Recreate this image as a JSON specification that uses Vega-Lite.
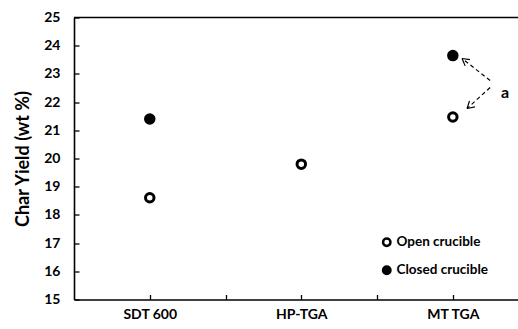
{
  "$schema": "https://vega.github.io/schema/vega-lite/v6.json",
  "width": 444,
  "height": 282,
  "autosize": {"type": "none"},
  "padding": {"left": 74, "top": 17.5, "right": 0, "bottom": 29.5},
  "background": "white",
  "config": {
    "view": {"stroke": null},
    "font": "Lato",
    "axis": {
      "grid": false,
      "domainColor": "black",
      "domainWidth": 1.6,
      "tickColor": "black",
      "tickWidth": 1.3,
      "tickSize": -5,
      "labelColor": "black",
      "labelFont": "Lato",
      "labelFontWeight": "bold",
      "labelFontSize": 14,
      "labelOverlap": false,
      "titleColor": "black",
      "titleFont": "Lato",
      "titleFontWeight": "bold"
    },
    "axisY": {
      "labelOverlap": false,
      "labelPadding": 19,
      "titleFontSize": 18,
      "titlePadding": 11,
      "tickCount": 10
    },
    "axisX": {
      "labelPadding": 13,
      "labelOverlap": false
    },
    "legend": {
      "orient": "none",
      "legendX": 306,
      "legendY": 218,
      "title": null,
      "labelFont": "Lato",
      "labelFontSize": 13.5,
      "labelFontWeight": "bold",
      "labelColor": "black",
      "symbolSize": 55,
      "symbolStrokeWidth": 2.5,
      "symbolStrokeColor": "black",
      "rowPadding": 10,
      "labelOffset": 3,
      "padding": 0
    }
  },
  "datasets": {
    "points": [
      {"instrument": "SDT 600", "idx": 1, "crucible": "Open crucible", "yield": 18.61},
      {"instrument": "SDT 600", "idx": 1, "crucible": "Closed crucible", "yield": 21.40},
      {"instrument": "HP-TGA", "idx": 2, "crucible": "Open crucible", "yield": 19.80},
      {"instrument": "MT TGA", "idx": 3, "crucible": "Open crucible", "yield": 21.47},
      {"instrument": "MT TGA", "idx": 3, "crucible": "Closed crucible", "yield": 23.65}
    ],
    "arrows": [
      {"x": 3.246, "y": 22.766, "x2": 3.061, "y2": 23.546},
      {"x": 3.246, "y": 22.518, "x2": 3.094, "y2": 21.773}
    ],
    "heads": [
      {"x": 3.061, "y": 23.546, "x2": 3.081, "y2": 23.284},
      {"x": 3.061, "y": 23.546, "x2": 3.113, "y2": 23.507},
      {"x": 3.094, "y": 21.773, "x2": 3.146, "y2": 21.833},
      {"x": 3.094, "y": 21.773, "x2": 3.110, "y2": 22.043}
    ],
    "notes": [
      {"x": 3.345, "y": 22.34, "text": "a"}
    ]
  },
  "layer": [
    {
      "data": {"name": "points"},
      "mark": {"type": "point", "shape": "circle", "size": 72, "strokeWidth": 3, "stroke": "black", "opacity": 1, "filled": false},
      "encoding": {
        "x": {
          "field": "idx", "type": "quantitative", "title": null,
          "scale": {"domain": [0.5, 3.43], "nice": false, "zero": false},
          "axis": {
            "values": [1, 1.5, 2, 2.5, 3],
            "labelExpr": "datum.value == 1 ? 'SDT 600' : datum.value == 2 ? 'HP-TGA' : datum.value == 3 ? 'MT TGA' : ''"
          }
        },
        "y": {
          "field": "yield", "type": "quantitative", "title": "Char Yield (wt %)",
          "scale": {"domain": [15, 25], "nice": false, "zero": false}
        },
        "fill": {
          "field": "crucible", "type": "nominal",
          "scale": {"domain": ["Open crucible", "Closed crucible"], "range": ["white", "black"]}
        }
      }
    },
    {
      "data": {"name": "arrows"},
      "mark": {"type": "rule", "color": "black", "strokeWidth": 1.2, "strokeDash": [4, 3]},
      "encoding": {
        "x": {"field": "x", "type": "quantitative", "title": null},
        "y": {"field": "y", "type": "quantitative", "title": "Char Yield (wt %)"},
        "x2": {"field": "x2"},
        "y2": {"field": "y2"}
      }
    },
    {
      "data": {"name": "heads"},
      "mark": {"type": "rule", "color": "black", "strokeWidth": 1.2},
      "encoding": {
        "x": {"field": "x", "type": "quantitative", "title": null},
        "y": {"field": "y", "type": "quantitative", "title": "Char Yield (wt %)"},
        "x2": {"field": "x2"},
        "y2": {"field": "y2"}
      }
    },
    {
      "data": {"name": "notes"},
      "mark": {"type": "text", "font": "Lato", "fontWeight": "bold", "fontSize": 16, "color": "black", "align": "center", "baseline": "middle"},
      "encoding": {
        "x": {"field": "x", "type": "quantitative", "title": null},
        "y": {"field": "y", "type": "quantitative", "title": "Char Yield (wt %)"},
        "text": {"field": "text"}
      }
    },
    {
      "data": {"name": "notes"},
      "mark": {"type": "rule", "color": "black", "strokeWidth": 1.6},
      "encoding": {"y": {"datum": 25, "title": "Char Yield (wt %)"}}
    }
  ]
}
